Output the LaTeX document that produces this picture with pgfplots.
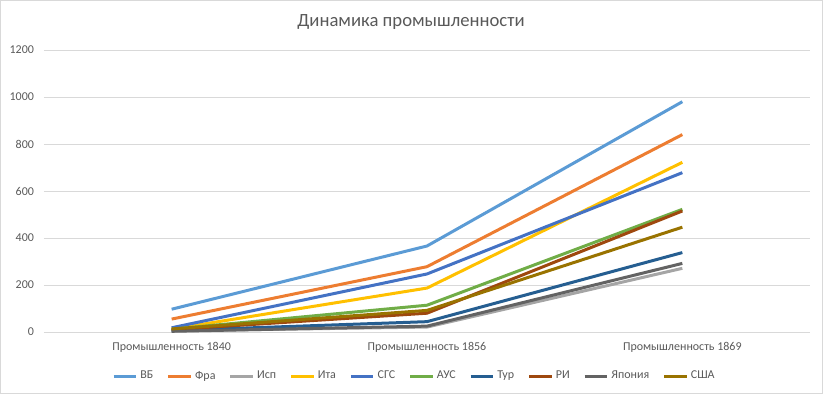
\documentclass[border=0pt]{standalone}
\usepackage{pgfplots}
\pgfplotsset{compat=1.18}
\usepackage{fontspec}
\setmainfont{Carlito}
\definecolor{cVB}{HTML}{5B9BD5}
\definecolor{cFR}{HTML}{ED7D31}
\definecolor{cIS}{HTML}{A5A5A5}
\definecolor{cIT}{HTML}{FFC000}
\definecolor{cSG}{HTML}{4472C4}
\definecolor{cAU}{HTML}{70AD47}
\definecolor{cTU}{HTML}{255E91}
\definecolor{cRI}{HTML}{9E480E}
\definecolor{cJP}{HTML}{636363}
\definecolor{cUS}{HTML}{997300}
\definecolor{txt}{HTML}{595959}
\definecolor{gridc}{HTML}{D9D9D9}
\begin{document}
\begin{tikzpicture}
\useasboundingbox (0,0) rectangle (617.25pt,295.5pt);
\draw[gridc, line width=0.75pt] (0.375pt,0.375pt) rectangle (616.875pt,295.125pt);
\node[font=\fontsize{14}{16}\selectfont, text=txt] at (308.25pt,279pt) {Динамика промышленности};
\begin{axis}[
  at={(33pt,46.5pt)}, anchor=south west,
  scale only axis, width=574.5pt, height=211.5pt,
  xmin=-0.5, xmax=2.5, ymin=0, ymax=1200,
  xtick={0,1,2},
  xticklabels={Промышленность 1840, Промышленность 1856, Промышленность 1869},
  ytick={0,200,400,600,800,1000,1200},
  major tick length=0pt,
  axis line style={draw=none},
  ymajorgrids, grid style={gridc, line width=0.75pt},
  tick label style={font=\fontsize{9}{10}\selectfont, text=txt},
  /pgf/number format/assume math mode=true,
  /pgf/number format/1000 sep={},
  xticklabel style={yshift=-4pt},
  yticklabel style={xshift=-4pt},
  legend style={at={(0.484,-0.156)}, anchor=center, draw=none, fill=none,
    font=\fontsize{9}{10}\selectfont, text=txt,
    /tikz/every even column/.append style={column sep=8pt}},
  legend columns=10,
  legend image code/.code={\draw[#1, line width=2.25pt] (0pt,0pt) -- (17pt,0pt);},
  every axis plot/.append style={line width=2.25pt, line join=round, mark=none},
]
\addplot[cVB] coordinates {(0,97) (1,366) (2,980)};
\addplot[cFR] coordinates {(0,55) (1,278) (2,840)};
\addplot[cIS] coordinates {(0,5) (1,21) (2,271)};
\addplot[cIT] coordinates {(0,12) (1,187) (2,722)};
\addplot[cSG] coordinates {(0,18) (1,247) (2,678)};
\addplot[cAU] coordinates {(0,12) (1,114) (2,522)};
\addplot[cTU] coordinates {(0,6) (1,44) (2,338)};
\addplot[cRI] coordinates {(0,10) (1,80) (2,515)};
\addplot[cJP] coordinates {(0,3) (1,25) (2,292)};
\addplot[cUS] coordinates {(0,13) (1,92) (2,446)};
\legend{ВБ, Фра, Исп, Ита, СГС, АУС, Тур, РИ, Япония, США}
\end{axis}
\end{tikzpicture}
\end{document}
